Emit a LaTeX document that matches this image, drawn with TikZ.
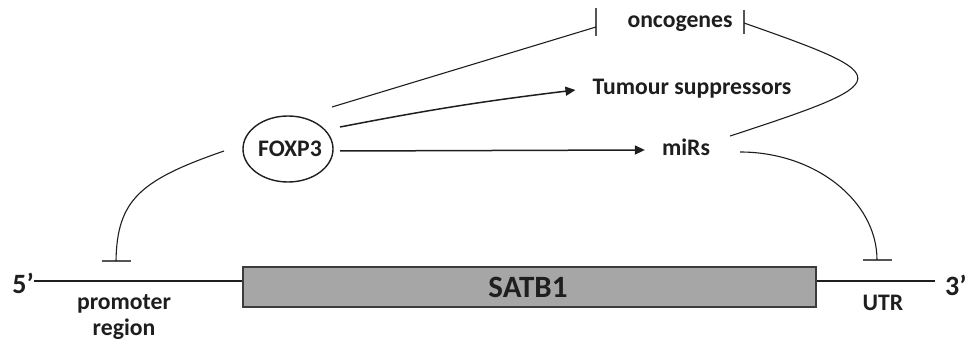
\documentclass[tikz,border=0pt]{standalone}
\usepackage{fontspec}
\setmainfont{Carlito}
\usetikzlibrary{arrows.meta,calc,shapes.geometric}
\definecolor{ink}{HTML}{1E1E1E}
\definecolor{bargrey}{HTML}{555555}
\definecolor{boxfill}{HTML}{A6A6A6}
\begin{document}
\begin{tikzpicture}[x=1pt,y=-1pt]
\tikzset{
  lbl/.style={font=\bfseries\fontsize{23.7}{25.5}\selectfont, inner sep=0pt, anchor=base, text=ink, align=center},
  ends/.style={font=\bfseries\fontsize{28}{30}\selectfont, inner sep=0pt, anchor=base, text=ink},
  ln/.style={draw=ink, line width=1.1pt},
  arr/.style={draw=ink, line width=1.5pt, -{Triangle[length=10pt,width=9pt]}},
  barline/.style={draw=bargrey, line width=2pt},
}
\useasboundingbox (0,0) rectangle (968,347);

% nodes
\node[draw=ink, line width=1.4pt, ellipse, minimum width=90pt, minimum height=66pt, inner sep=0pt] (fox) at (288,149) {};
\node[lbl] (foxt) at (290,157) {FOXP3};
\node[lbl] (onc) at (680,28) {oncogenes};
\node[lbl] (tum) at (692,95) {Tumour suppressors};
\node[lbl] (mir) at (686,156) {miRs};
\node[draw=bargrey!70!black, line width=1.8pt, fill=boxfill, minimum width=573pt, minimum height=40pt, inner sep=0pt] (box) at (529.5,287) {};
\node[font=\bfseries\fontsize{31}{33}\selectfont, inner sep=0pt, anchor=base, text=ink] (satb) at (528,297) {SATB1};
\node[ends, anchor=base east] (five) at (34,293) {5’};
\node[ends, anchor=base west] (three) at (945,295) {3’};
\node[lbl] (prom) at (124,335) {promoter\\region};
\node[lbl] (utrt) at (883,310) {UTR};

% inhibition ends
\coordinate (onL) at (596,27);
\coordinate (onR) at (744,23);
\coordinate (pr) at (116,261);
\coordinate (ut) at (877,260);
\draw[barline] (596,8) -- (596,36);
\draw[barline] (744,10) -- (744,34);
\draw[barline] ($(pr)+(-14.5,0)$) -- ($(pr)+(14.5,0)$);
\draw[barline] ($(ut)+(-14.5,0)$) -- ($(ut)+(14.5,0)$);

% DNA line
\coordinate (dna) at (0,281);
\draw[ln] (five.east |- dna) -- (box.west |- dna);
\draw[ln, shorten >=10pt] (box.east |- dna) -- (three.west |- dna);

% connectors
\draw[ln] ($(fox.center)+(44,-42)$) -- (onL);
\draw[arr] ($(fox.center)+(52,-22)$) to[bend left=2] ($(tum.base west)+(-17,-5)$);
\draw[arr] ($(fox.center)+(52,2)$) -- ($(mir.base west)+(-17,-6)$);
\draw[ln] ($(mir.base east)+(20,-20)$) .. controls (898,81) and (898,77) .. (onR);
\draw[ln] ($(mir.base east)+(30,-4)$) .. controls (815,152) and (877,201) .. (ut);
\draw[ln] ($(fox.center)+(-64,2)$) .. controls (140,180) and (117,200) .. (pr);
\end{tikzpicture}
\end{document}
